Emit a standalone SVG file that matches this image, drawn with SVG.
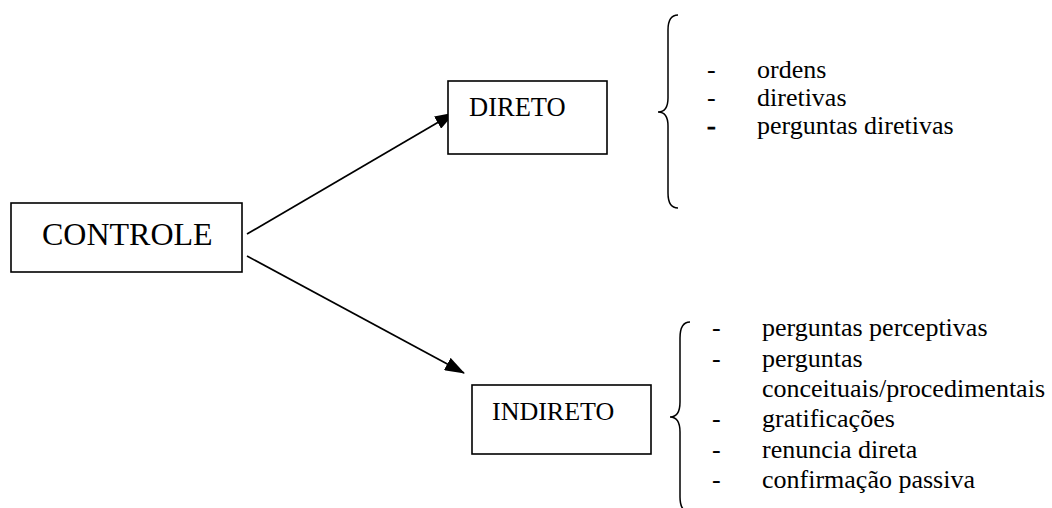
<svg xmlns="http://www.w3.org/2000/svg" width="1052" height="508" viewBox="0 0 1052 508">
<defs>
<style>
.box{fill:#fff;stroke:#000;stroke-width:1.6}
.conn{stroke:#000;stroke-width:1.7;fill:none}
.brace{stroke:#000;stroke-width:1.5;fill:none}
.thick{stroke:#000;stroke-width:0.8}
</style>
<marker id="arr" viewBox="0 0 20 14" refX="19" refY="7" markerWidth="20" markerHeight="14" markerUnits="userSpaceOnUse" orient="auto">
<path d="M0,0 L20,7 L0,14 Z" fill="#000"/>
</marker>
</defs>
<rect width="1052" height="508" fill="#fff"/>
<g id="connectors">
<line class="conn" x1="247" y1="234" x2="454" y2="113" marker-end="url(#arr)"/>
<line class="conn" x1="247" y1="256" x2="464" y2="373" marker-end="url(#arr)"/>
</g>
<g font-family="'Liberation Serif', 'DejaVu Serif', serif" fill="#000">
<g id="controle">
<rect class="box" x="11" y="203" width="231" height="69"/>
<text x="42" y="245" font-size="32">CONTROLE</text>
</g>
<g id="direto">
<rect class="box" x="448" y="81" width="159" height="73"/>
<text x="469" y="116" font-size="26.5">DIRETO</text>
</g>
<g id="indireto">
<rect class="box" x="472" y="385" width="179" height="69"/>
<text x="492" y="420" font-size="26">INDIRETO</text>
</g>
<g id="direto-list" font-size="26">
<path class="brace" d="M678,15 C671,15 668,20 668,30 L668,98 C668,107 665,112 658,112 C665,112 668,117 668,126 L668,193 C668,203 671,208 678,208"/>
<text x="707" y="78">-</text>
<text x="757" y="78">ordens</text>
<text x="707" y="106">-</text>
<text x="757" y="106">diretivas</text>
<text class="thick" x="707" y="134">-</text>
<text x="757" y="134">perguntas diretivas</text>
</g>
<g id="indireto-list" font-size="26">
<path class="brace" d="M690,322 C683,322 680,328 680,338 L680,402 C680,411 677,417 670,417 C677,417 680,423 680,432 L680,497 C680,507 683,512 690,512"/>
<text x="712" y="336">-</text>
<text x="762" y="336">perguntas perceptivas</text>
<text x="712" y="367">-</text>
<text x="762" y="367">perguntas</text>
<text x="762" y="397">conceituais/procedimentais</text>
<text x="712" y="427">-</text>
<text x="762" y="427">gratificações</text>
<text x="712" y="458">-</text>
<text x="762" y="458">renuncia direta</text>
<text x="712" y="488">-</text>
<text x="762" y="488">confirmação passiva</text>
</g>
</g>
</svg>
